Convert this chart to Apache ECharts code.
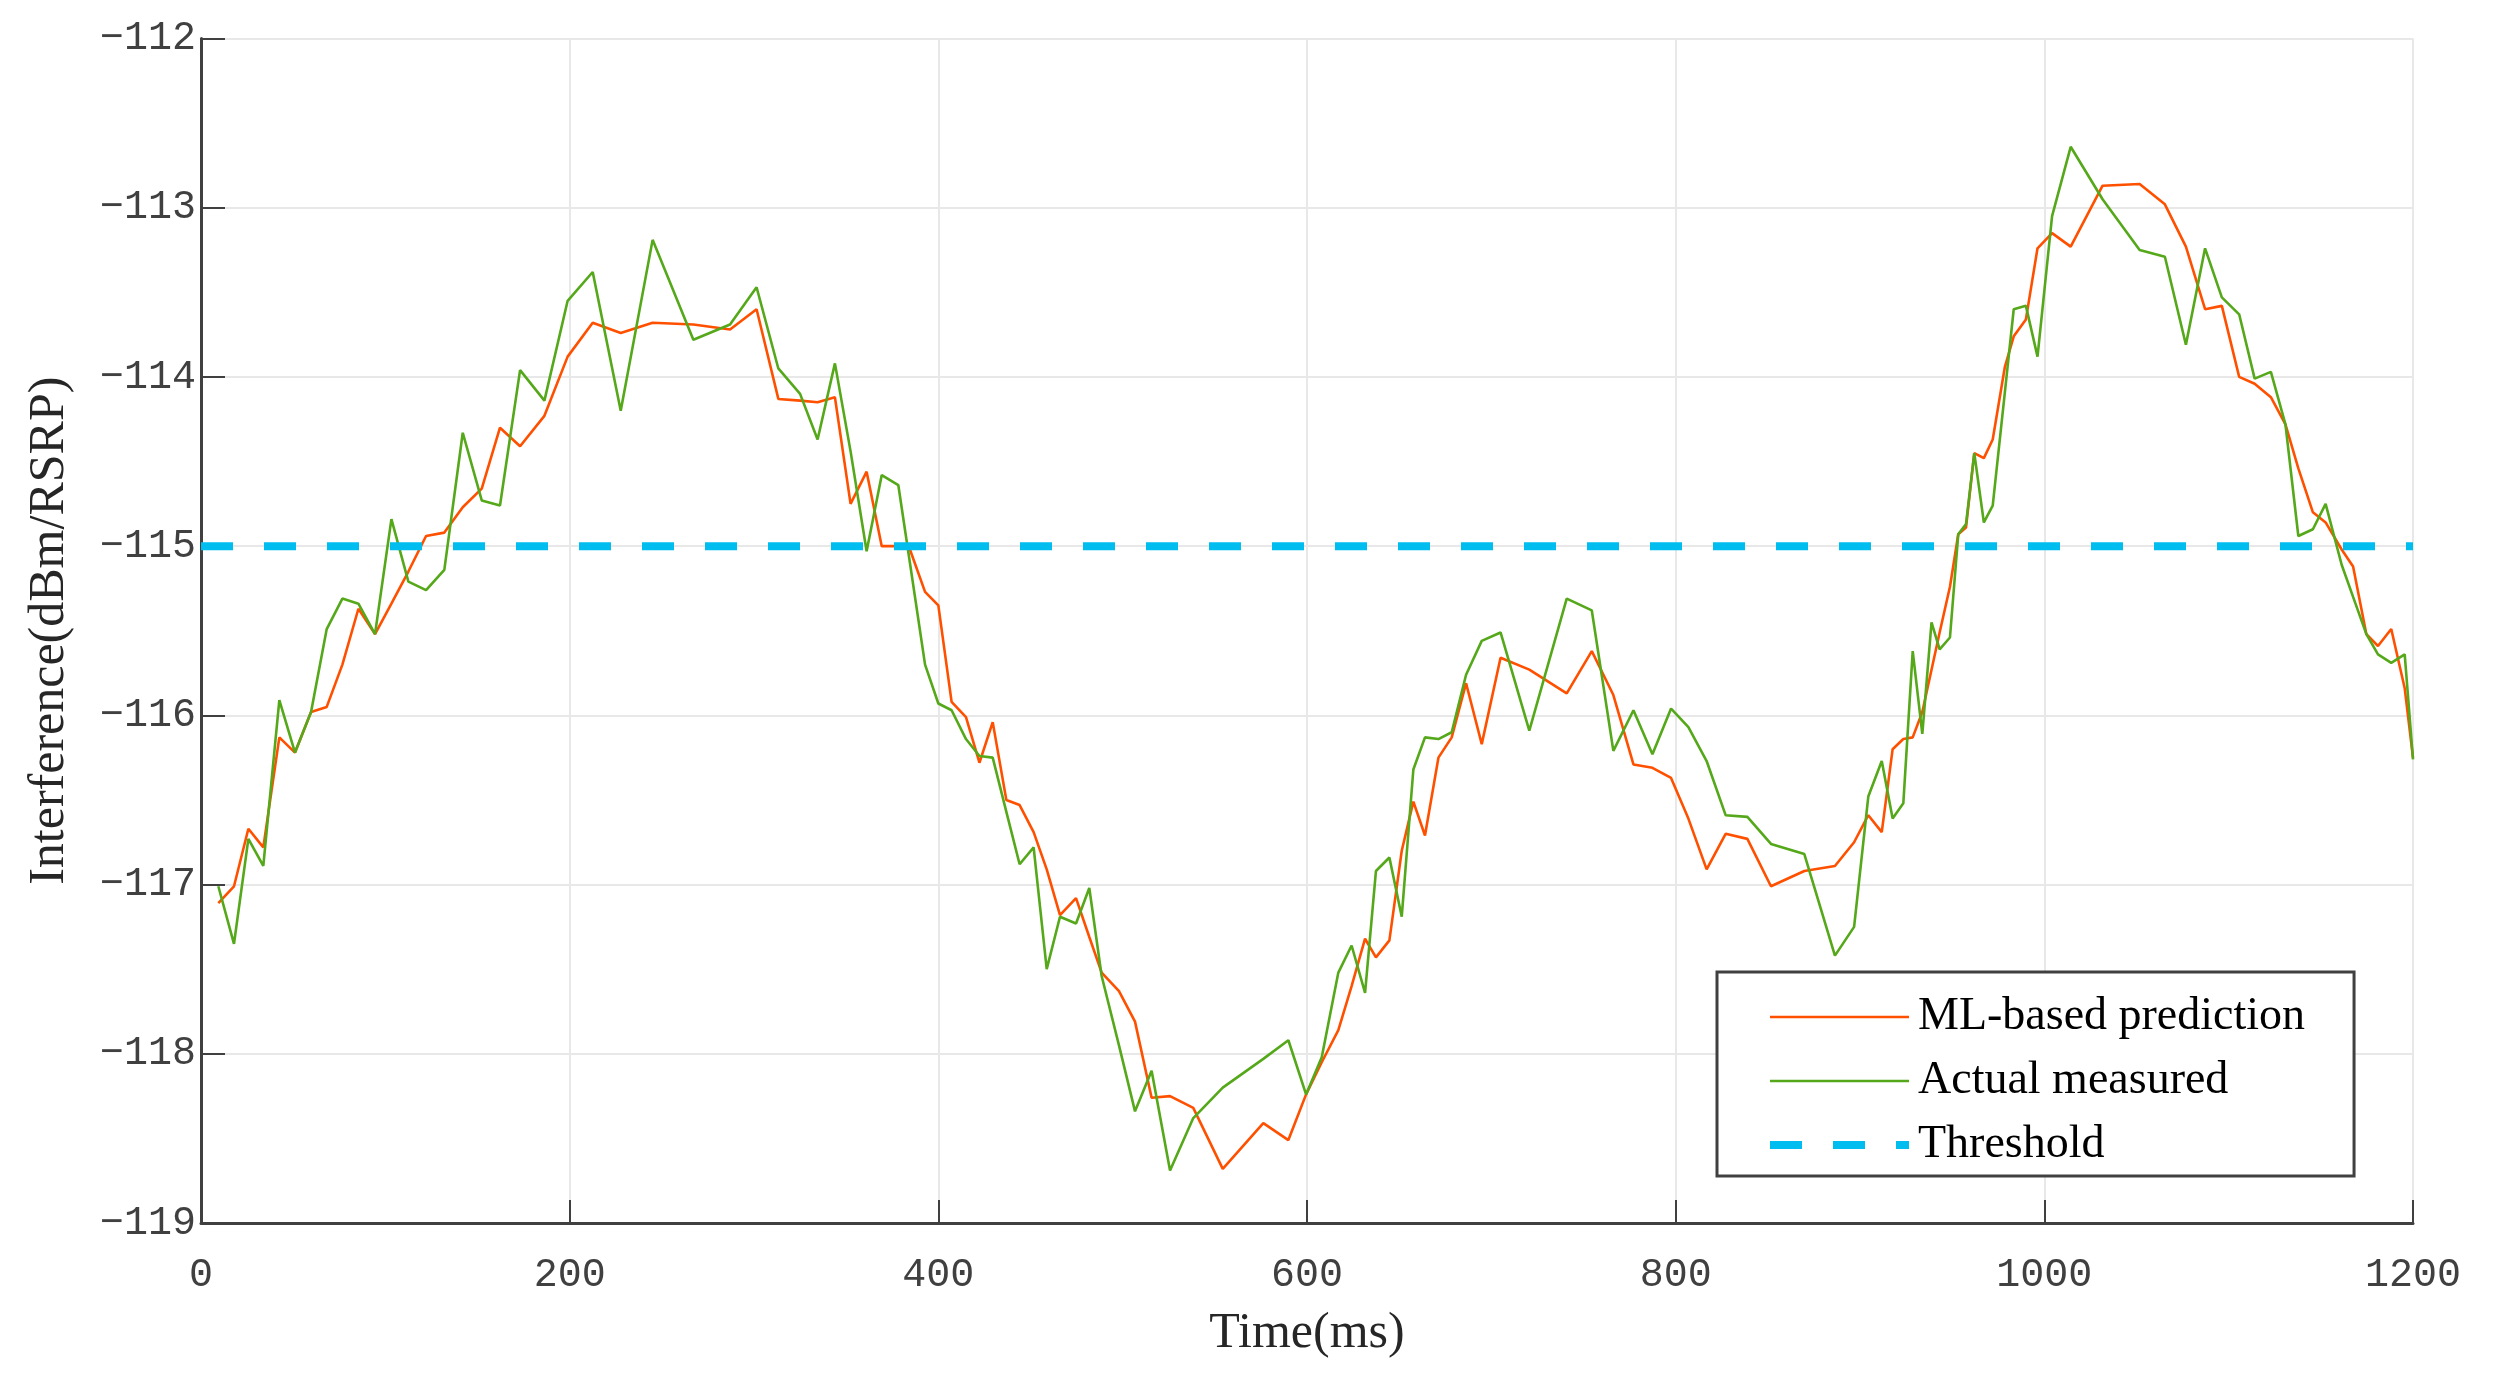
<!DOCTYPE html>
<html>
<head>
<meta charset="utf-8">
<script src="https://cdn.jsdelivr.net/npm/echarts@6/dist/echarts.min.js"></script>
<style>
html,body{margin:0;padding:0;background:#fff;}
#chart{width:2500px;height:1379px;}
</style>
</head>
<body>
<div id="chart"></div>
<script>
// ---- data ----
const timesMs = [9.4,17.9,25.7,33.8,42.5,51.0,59.7,68.2,76.7,85.4,94.4,103.3,112.5,122.1,132.0,142.0,152.3,162.2,173.1,186.3,
198.9,212.5,227.7,245.0,267.1,287.0,301.4,313.2,325.0,334.5,343.9,352.4,361.1,369.3,378.3,384.6,392.8,400.0,407.2,415.0,
422.3,429.5,436.9,444.1,451.7,458.8,466.0,474.7,481.9,488.6,498.0,506.7,515.7,525.7,538.3,554.3,576.3,589.9,599.5,608.0,
617.0,624.2,631.5,637.4,644.7,651.4,657.7,664.0,671.3,678.5,686.3,694.8,705.0,720.6,740.9,754.5,766.2,777.1,787.4,797.5,
806.9,816.8,827.1,838.9,851.7,869.8,886.4,896.8,904.5,911.8,917.7,923.5,928.6,933.8,938.8,943.2,948.8,953.3,957.5,962.0,
967.2,972.0,978.6,983.4,990.0,996.3,1004.2,1014.3,1031.6,1051.7,1065.4,1076.8,1087.2,1096.3,1105.7,1114.1,1122.9,1130.8,1137.8,1145.7,
1152.6,1161.3,1167.5,1174.7,1181.0,1188.2,1195.5,1200.0];

const predicted = [-117.11,-117.01,-116.67,-116.78,-116.13,-116.22,-115.98,-115.95,-115.70,-115.37,-115.52,-115.34,-115.15,-114.94,-114.92,-114.77,-114.66,-114.30,-114.41,-114.23,
-113.88,-113.68,-113.74,-113.68,-113.69,-113.72,-113.60,-114.13,-114.14,-114.15,-114.12,-114.75,-114.56,-115.00,-115.00,-115.02,-115.27,-115.35,-115.92,-116.01,
-116.28,-116.04,-116.50,-116.53,-116.69,-116.91,-117.18,-117.08,-117.31,-117.52,-117.63,-117.81,-118.26,-118.25,-118.32,-118.68,-118.41,-118.51,-118.24,-118.05,
-117.86,-117.60,-117.32,-117.43,-117.33,-116.80,-116.51,-116.71,-116.25,-116.13,-115.81,-116.17,-115.66,-115.73,-115.87,-115.62,-115.88,-116.29,-116.31,-116.37,
-116.61,-116.91,-116.70,-116.73,-117.01,-116.92,-116.89,-116.75,-116.59,-116.69,-116.20,-116.14,-116.13,-115.98,-115.73,-115.51,-115.24,-114.93,-114.89,-114.45,
-114.48,-114.37,-113.94,-113.76,-113.66,-113.24,-113.15,-113.23,-112.87,-112.86,-112.98,-113.23,-113.60,-113.58,-114.00,-114.04,-114.12,-114.28,-114.54,-114.80,
-114.86,-115.02,-115.12,-115.52,-115.59,-115.49,-115.84,-116.25];

const measured = [-117.01,-117.35,-116.73,-116.89,-115.91,-116.22,-115.98,-115.49,-115.31,-115.34,-115.52,-114.84,-115.21,-115.26,-115.14,-114.33,-114.73,-114.76,-113.96,-114.14,
-113.55,-113.38,-114.20,-113.19,-113.78,-113.69,-113.47,-113.95,-114.10,-114.37,-113.92,-114.44,-115.03,-114.58,-114.64,-115.10,-115.70,-115.93,-115.97,-116.14,
-116.24,-116.25,-116.57,-116.88,-116.78,-117.50,-117.19,-117.23,-117.02,-117.54,-117.95,-118.34,-118.10,-118.69,-118.38,-118.20,-118.03,-117.92,-118.24,-118.02,
-117.52,-117.36,-117.64,-116.92,-116.84,-117.19,-116.32,-116.13,-116.14,-116.10,-115.76,-115.56,-115.51,-116.09,-115.31,-115.38,-116.21,-115.97,-116.23,-115.96,
-116.07,-116.27,-116.59,-116.60,-116.76,-116.82,-117.42,-117.25,-116.48,-116.27,-116.61,-116.52,-115.62,-116.11,-115.45,-115.61,-115.54,-114.93,-114.87,-114.45,
-114.86,-114.76,-114.09,-113.60,-113.58,-113.88,-113.05,-112.64,-112.95,-113.25,-113.29,-113.81,-113.24,-113.53,-113.63,-114.01,-113.97,-114.28,-114.94,-114.90,
-114.75,-115.11,-115.30,-115.52,-115.64,-115.69,-115.64,-116.26];

const thresholdValue = -115;
const xRange = [0, 1200];
const yRange = [-119, -112];
const seriesNames = ['ML-based prediction', 'Actual measured', 'Threshold'];
const xAxisTitle = 'Time(ms)';
const yAxisTitle = 'Interference(dBm/RSRP)';

// ---- build ----
const pair = (xs, ys) => xs.map((x, i) => [x, ys[i]]);
const axisColor = '#404040';
const gridColor = '#e8e8e8';

const chart = echarts.init(document.getElementById('chart'), null, {renderer: 'canvas'});
chart.setOption({
  backgroundColor: '#ffffff',
  animation: false,
  grid: {left: 201, right: 87, top: 38.5, bottom: 156, containLabel: false},
  xAxis: {
    type: 'value', min: xRange[0], max: xRange[1], interval: 200,
    name: xAxisTitle, nameLocation: 'middle', nameGap: 86,
    nameTextStyle: {fontFamily: 'Liberation Serif', fontSize: 50, color: '#262626'},
    axisLine: {show: true, onZero: false, lineStyle: {color: axisColor, width: 3}},
    axisTick: {show: true, inside: true, length: 23, lineStyle: {color: axisColor, width: 2}},
    axisLabel: {fontFamily: 'Liberation Mono', fontSize: 40, color: axisColor, margin: 32,
      formatter: v => String(v)},
    splitLine: {show: true, lineStyle: {color: gridColor, width: 2}}
  },
  yAxis: {
    type: 'value', min: yRange[0], max: yRange[1], interval: 1,
    name: yAxisTitle, nameLocation: 'middle', nameGap: 126, nameRotate: 90,
    nameTextStyle: {fontFamily: 'Liberation Serif', fontSize: 50, color: '#262626'},
    axisLine: {show: true, onZero: false, lineStyle: {color: axisColor, width: 3}},
    axisTick: {show: true, inside: true, length: 24, lineStyle: {color: axisColor, width: 2}},
    axisLabel: {fontFamily: 'Liberation Mono', fontSize: 40, color: axisColor, margin: 5,
      formatter: v => (v < 0 ? '\u2212' : '') + Math.abs(v)},
    splitLine: {show: true, lineStyle: {color: gridColor, width: 2}}
  },
  legend: {
    orient: 'vertical', left: 1717, top: 972,
    padding: [22, 49, 8, 49],
    itemWidth: 139, itemHeight: 14, itemGap: 18,
    backgroundColor: '#ffffff', borderColor: axisColor, borderWidth: 3, borderRadius: 0,
    itemStyle: {opacity: 0},
    lineStyle: {width: 'inherit'},
    textStyle: {fontFamily: 'Liberation Serif', fontSize: 46, color: '#000', lineHeight: 46, padding: [0,0,0,4]},
    data: seriesNames
  },
  series: [
    {name: seriesNames[0], type: 'line', data: pair(timesMs, predicted), symbol: 'none', smooth: false,
     lineStyle: {color: '#ff5000', width: 2.6}, itemStyle: {color: '#ff5000'}},
    {name: seriesNames[1], type: 'line', data: pair(timesMs, measured), symbol: 'none', smooth: false,
     lineStyle: {color: '#55a81a', width: 2.6}, itemStyle: {color: '#55a81a'}},
    {name: seriesNames[2], type: 'line', data: [[xRange[0], thresholdValue], [xRange[1], thresholdValue]], symbol: 'none',
     lineStyle: {color: '#00bdf0', width: 8, type: [32, 31], cap: 'butt'}, itemStyle: {color: '#00bdf0'}}
  ]
});
</script>
</body>
</html>
